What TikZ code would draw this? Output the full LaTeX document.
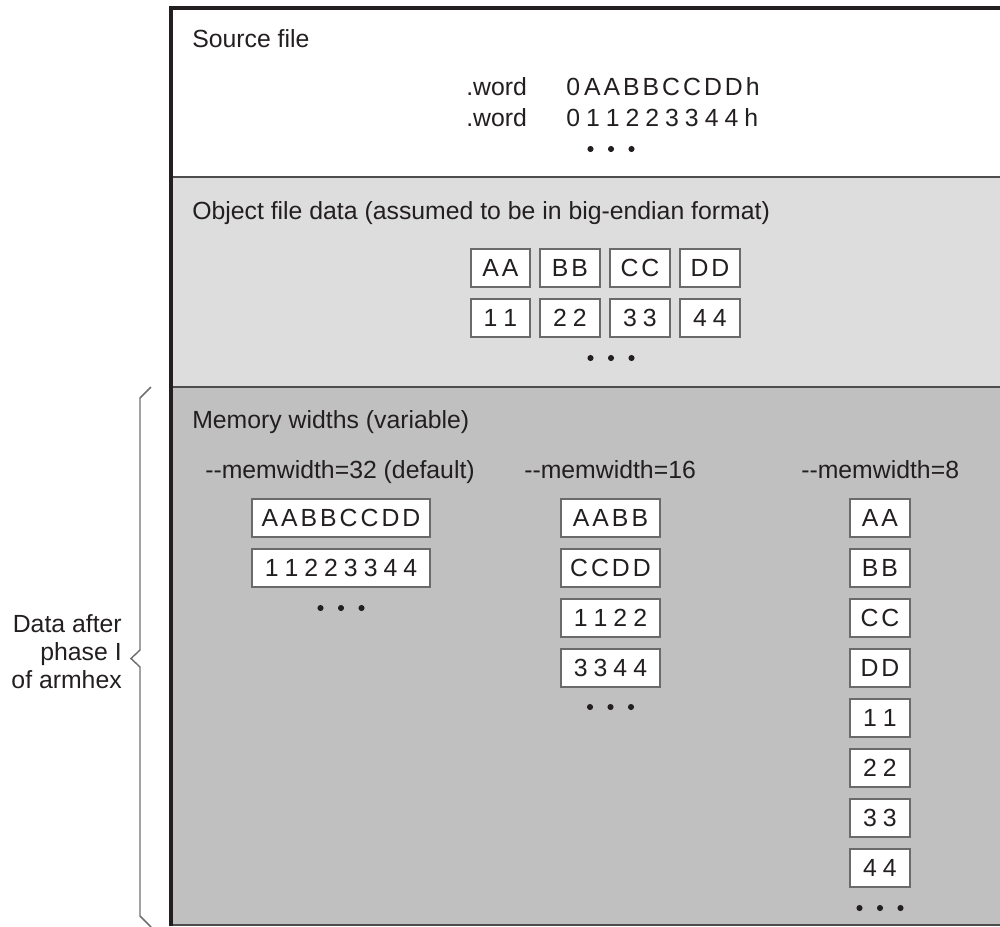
\documentclass[tikz,border=0pt]{standalone}
\usepackage{fontspec}
\setmainfont{Liberation Sans}
\makeatletter
\newcommand\trk[2]{\begingroup\let\trk@sep\relax\@tfor\trk@c:=#2\do{\trk@sep\trk@c\def\trk@sep{\kern#1}}\endgroup}
\makeatother
\newcommand\hy{\mbox{-}\mbox{-}}
\newcommand\lt[1]{\trk{2.25pt}{#1}}
\newcommand\dg[1]{\trk{4.5pt}{#1}}
\definecolor{ink}{HTML}{231F20}
\definecolor{objfill}{HTML}{DDDDDD}
\definecolor{memfill}{HTML}{C0C0C0}
\definecolor{cellline}{HTML}{6A6A6A}
\definecolor{divcol}{HTML}{4D4D4D}
\definecolor{bracecol}{HTML}{707070}
\begin{document}
\begin{tikzpicture}[x=0.75pt,y=-0.75pt,
  txt/.style={font=\fontsize{18.6}{21}\selectfont, text=ink, inner sep=0pt},
  cell/.style={txt, draw=cellline, line width=1.3pt, fill=white, minimum height=28.9pt},
  cellS/.style={cell, minimum width=44.6pt},
  cellM/.style={cell, minimum width=74.6pt},
  cellL/.style={cell, minimum width=133.9pt},
  divider/.style={draw=divcol, line width=1.5pt},
  frame/.style={draw=ink, line width=3pt, line join=miter},
  brace/.style={draw=bracecol, line width=1.1pt},
  ell/.pic={\foreach \d in {-20.5,0,20.5} \fill[ink] (\d,0) circle[radius=2.3pt];}]
\useasboundingbox (0,0) rectangle (1000,926);
% panels
\fill[white] (171,8) rectangle (1000,177);
\fill[objfill] (171,177) rectangle (1000,387);
\fill[memfill] (171,387) rectangle (1000,926);
\draw[divider] (171,177) -- (1000,177);
\draw[divider] (171,387) -- (1000,387);
\draw[divider] (171,925) -- (1000,925);
\draw[frame] (171,926) -- (171,8) -- (1000,8);
% source file
\node[txt, anchor=base west] (srcT) at (192,47) {Source file};
\node[txt, anchor=base west] (w1) at (466,95) {.word};
\node[txt, anchor=base west] (w2) at (466,126) {.word};
\node[txt, anchor=base west] (h1) at (566,95) {0\kern3pt\lt{AABBCCDDh}};
\node[txt, anchor=base west] (h2) at (566,126) {\dg{011223344h}};
\pic at (611,149) {ell};
% object file
\node[txt, anchor=base west] (objT) at (192,219) {Object file data (assumed to be in big-endian format)};
\node[cellS] (oA) at (500.5,268) {\lt{AA}};
\node[cellS] (oB) at (570,268) {\lt{BB}};
\node[cellS] (oC) at (640,268) {\lt{CC}};
\node[cellS] (oD) at (710,268) {\lt{DD}};
\node[cellS] (o1) at (500.5,318) {\dg{11}};
\node[cellS] (o2) at (570,318) {\dg{22}};
\node[cellS] (o3) at (640,318) {\dg{33}};
\node[cellS] (o4) at (710,318) {\dg{44}};
\pic at (611,358) {ell};
% memory widths
\node[txt, anchor=base west] (memT) at (192,428) {Memory widths (variable)};
\node[txt, anchor=base west] (m32) at (205,478) {\hy memwidth=32 (default)};
\node[txt, anchor=base west] (m16) at (524,478) {\hy memwidth=16};
\node[txt, anchor=base west] (m8) at (801,478) {\hy memwidth=8};
\node[cellL] (a1) at (341,518) {\lt{AABBCCDD}};
\node[cellL] (a2) at (341,568) {\dg{11223344}};
\pic at (341,608) {ell};
\node[cellM] (b1) at (610.5,518) {\lt{AABB}};
\node[cellM] (b2) at (610.5,568) {\lt{CCDD}};
\node[cellM] (b3) at (610.5,618) {\dg{1122}};
\node[cellM] (b4) at (610.5,668) {\dg{3344}};
\pic at (610.5,707) {ell};
\node[cellS] (c1) at (880,518) {\lt{AA}};
\node[cellS] (c2) at (880,568) {\lt{BB}};
\node[cellS] (c3) at (880,618) {\lt{CC}};
\node[cellS] (c4) at (880,668) {\lt{DD}};
\node[cellS] (c5) at (880,718) {\dg{11}};
\node[cellS] (c6) at (880,768) {\dg{22}};
\node[cellS] (c7) at (880,818) {\dg{33}};
\node[cellS] (c8) at (880,868) {\dg{44}};
\pic at (880,908) {ell};
% brace and label
\coordinate (bt) at (151,387);
\coordinate (bb) at (151,927);
\coordinate (btip) at (131,658.5);
\draw[brace] (bt) -- (140,398) -- (140,650) -- (btip) -- (140,667) -- (140,916) -- (bb);
\node[txt, align=right, anchor=east] (phase) at (122,652) {Data after\\phase I\\of armhex};
\end{tikzpicture}
\end{document}
